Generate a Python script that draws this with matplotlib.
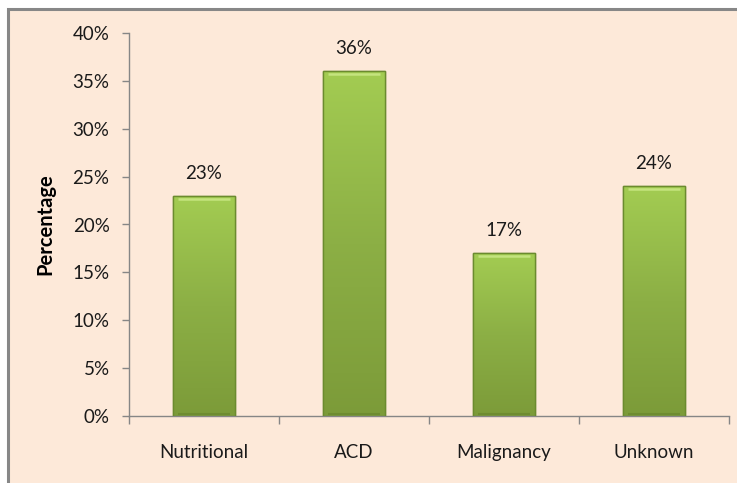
import numpy as np
import matplotlib.pyplot as plt
from matplotlib.colors import LinearSegmentedColormap
from matplotlib.patches import Rectangle

plt.rcParams['font.family'] = ['Lato', 'DejaVu Sans']

categories = ["Nutritional", "ACD", "Malignancy", "Unknown"]
values = [23, 36, 17, 24]
yticks = [0, 5, 10, 15, 20, 25, 30, 35, 40]

fig = plt.figure(figsize=(7.37, 4.83), dpi=100)
fig.patch.set_facecolor("white")

# peach chart area with gray border on the left/top
bg = Rectangle((8 / 737, -0.05), 1.1, 1.05 - 9 / 483,
               transform=fig.transFigure, facecolor="#FDE9D9",
               edgecolor="#878787", linewidth=2.2, zorder=-1)
fig.patches.append(bg)

ax = fig.add_axes([129 / 737, 1 - 416 / 483, 600 / 737, 383 / 483])
ax.set_facecolor("none")

x = np.arange(len(categories))
width = 0.41
bars = ax.bar(x, values, width=width, color="#93BA48", edgecolor="#6B8B2F",
              linewidth=1.0, zorder=2)

# vertical gradient inside each bar, lighter at the top
grad_cmap = LinearSegmentedColormap.from_list("g", ["#7C9B39", "#8CAF45", "#A3CC52"])
grad = np.linspace(0, 1, 256).reshape(-1, 1)
for b in bars:
    bx, by, bw, bh = b.get_x(), b.get_y(), b.get_width(), b.get_height()
    im = ax.imshow(grad, cmap=grad_cmap, origin="lower", aspect="auto",
                   extent=(bx, bx + bw, by, by + bh), zorder=2.5)
    im.set_clip_path(b)
    # light bevel at the top, darker one at the bottom
    ax.plot([bx + 0.03, bx + bw - 0.03], [bh - 0.3, bh - 0.3],
            color="#C4E47E", linewidth=1.8, zorder=3, solid_capstyle="butt")
    ax.plot([bx + 0.03, bx + bw - 0.03], [by + 0.25, by + 0.25],
            color="#6E8C30", linewidth=1.5, zorder=3, solid_capstyle="butt")
    ax.add_patch(Rectangle((bx, by), bw, bh, fill=False, edgecolor="#6B8B2F",
                           linewidth=1.0, zorder=3.5))
    ax.annotate(f"{bh:.0f}%", (bx + bw / 2, bh), xytext=(0, 10),
                textcoords="offset points", ha="center", va="bottom",
                fontsize=13.5, color="#1a1a1a")

ax.set_xlim(-0.5, len(categories) - 0.5)
ax.set_ylim(0, 40)
ax.set_yticks(yticks)
ax.set_yticklabels([f"{t}%" for t in yticks])

ax.set_xticks(np.arange(len(categories) + 1) - 0.5)
ax.set_xticklabels([])
ax.set_xticks(x, minor=True)
ax.set_xticklabels(categories, minor=True)
ax.tick_params(axis="x", which="major", length=6, color="#868686", width=1)
ax.tick_params(axis="x", which="minor", length=0, pad=20, labelsize=13.5,
               labelcolor="#1a1a1a")
ax.tick_params(axis="y", length=5, color="#868686", width=1, pad=9,
               labelsize=13.5, labelcolor="#1a1a1a")

for side in ["top", "right"]:
    ax.spines[side].set_visible(False)
for side in ["left", "bottom"]:
    ax.spines[side].set_color("#868686")
    ax.spines[side].set_linewidth(1)

ax.set_ylabel("Percentage", fontsize=14.5, fontweight="bold", labelpad=12)

fig.savefig("out.png", dpi=100, facecolor=fig.get_facecolor())
